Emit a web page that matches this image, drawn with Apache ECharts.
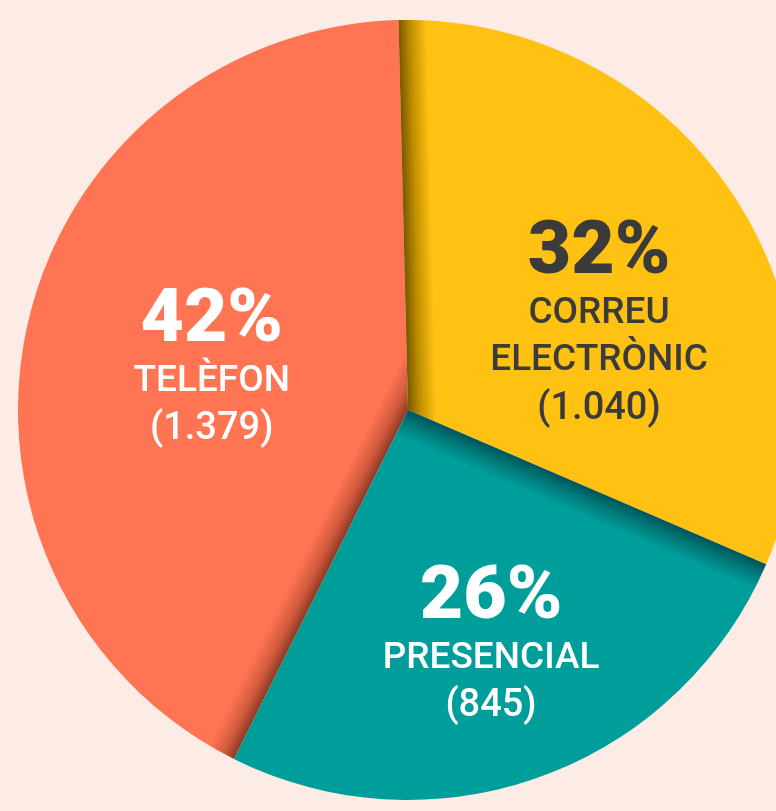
<!DOCTYPE html>
<html>
<head>
<meta charset="utf-8">
<script src="https://cdn.jsdelivr.net/npm/echarts@6/dist/echarts.min.js"></script>
<style>
html,body{margin:0;padding:0;background:#FDEBE5;}
#chart{width:776px;height:811px;}
</style>
</head>
<body>
<div id="chart"></div>
<script>
// ---- data ----
const categories = ['Telèfon', 'Correu electrònic', 'Presencial'];
const values = [1379, 1040, 845];

// ---- styling ----
const colors = ['#FF7452', '#FFC112', '#009E9B'];
const shadeColors = ['#8E3A24', '#7A5900', '#00545A'];
const midColors = ['#D45C40', '#C29000', '#007A7A'];
const textColors = ['#FFFFFF', '#3B3B3B', '#FFFFFF'];
const labelShift = [[-3, 3], [27, 27], [15, 51]];
const CENTER = [408, 410];
const RADIUS = 390;
const START_ANGLE = -116.5; // echarts degrees (ccw from 3 o'clock)
const BAND = 28;

const sum = values.reduce((a, b) => a + b, 0);

function fmtNum(v) {
  return String(v).replace(/\B(?=(\d{3})+(?!\d))/g, '.');
}

// gradient band along the starting edge of each slice (overlap shadow)
function edgeGradient(i) {
  let cum = 0;
  for (let k = 0; k < i; k++) cum += values[k];
  const thetaTop = (90 - START_ANGLE) + 360 * cum / sum; // clockwise from top
  const t = thetaTop * Math.PI / 180;
  const nx = Math.cos(t), ny = Math.sin(t);
  return {
    type: 'linear',
    x: CENTER[0], y: CENTER[1],
    x2: CENTER[0] + BAND * nx, y2: CENTER[1] + BAND * ny,
    global: true,
    colorStops: [
      { offset: 0, color: shadeColors[i] },
      { offset: 0.45, color: midColors[i] },
      { offset: 1, color: colors[i] }
    ]
  };
}

const chart = echarts.init(document.getElementById('chart'), null, { renderer: 'canvas' });

chart.setOption({
  backgroundColor: '#FDEBE5',
  animation: false,
  series: [{
    type: 'pie',
    center: CENTER,
    radius: [0, RADIUS],
    startAngle: START_ANGLE,
    clockwise: true,
    silent: true,
    avoidLabelOverlap: false,
    label: {
      show: true,
      position: 'inside',
      fontFamily: 'Roboto',
      formatter: function (p) {
        const pct = Math.round(p.value / sum * 100) + '%';
        const nameLines = p.name.toUpperCase().split(' ').map(s => '{n|' + s + '}').join('\n');
        return '{p|' + pct + '}\n' + nameLines + '\n{v|(' + fmtNum(p.value) + ')}';
      },
      rich: {
        p: { fontFamily: 'Roboto', fontSize: 75, fontWeight: 900, lineHeight: 72 },
        n: { fontFamily: 'Roboto', fontSize: 37, fontWeight: 500, lineHeight: 47 },
        v: { fontFamily: 'Roboto', fontSize: 38, fontWeight: 500, lineHeight: 49 }
      }
    },
    labelLine: { show: false },
    labelLayout: function (params) {
      const s = labelShift[params.dataIndex];
      return { dx: s[0], dy: s[1] };
    },
    data: categories.map((c, i) => ({
      name: c,
      value: values[i],
      itemStyle: { color: edgeGradient(i) },
      label: { color: textColors[i] }
    }))
  }]
});
</script>
</body>
</html>
